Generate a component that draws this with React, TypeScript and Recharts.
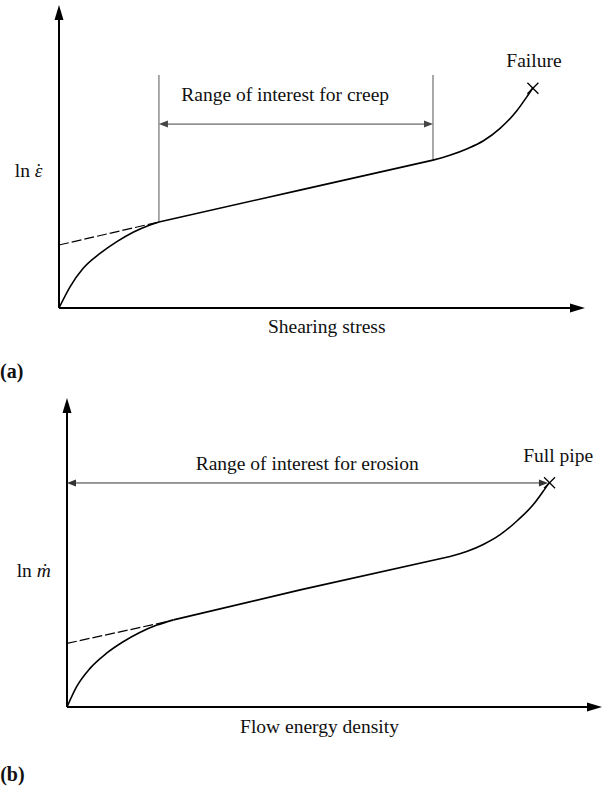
import React from 'react';
import { LineChart, Line, XAxis, YAxis, ReferenceLine, ReferenceDot } from 'recharts';

// ---------- data (schematic units, 0..100 on both axes) ----------
const lowA = [
  { x: 0, y: 0 }, { x: 2.1, y: 7.0 }, { x: 4.6, y: 13.1 }, { x: 7.8, y: 18.0 },
  { x: 11.0, y: 21.9 }, { x: 14.1, y: 25.0 }, { x: 17.3, y: 27.4 }, { x: 19.0, y: 28.4 },
];
const midA = [{ x: 19.0, y: 28.4 }, { x: 45.8, y: 38.9 }, { x: 71.1, y: 48.8 }];
const highA = [
  { x: 71.1, y: 48.8 }, { x: 74.3, y: 50.4 }, { x: 77.5, y: 52.5 }, { x: 80.7, y: 55.2 },
  { x: 83.8, y: 59.2 }, { x: 87.0, y: 65.0 }, { x: 88.9, y: 69.6 }, { x: 90.1, y: 72.7 },
];
const dashedA = [{ x: 0, y: 20.8 }, { x: 19.0, y: 28.4 }];
const rangeA = { from: 19.0, to: 71.1, y: 60.7, top: 76.9, lowFrom: 28.4, lowTo: 48.8 };
const failureA = { x: 90.1, y: 72.5 };

const lowB = [
  { x: 0, y: 0 }, { x: 1.8, y: 6.6 }, { x: 4.3, y: 12.5 }, { x: 7.4, y: 17.4 },
  { x: 10.5, y: 21.1 }, { x: 13.6, y: 24.1 }, { x: 16.8, y: 26.5 }, { x: 19.9, y: 28.2 },
];
const midB = [{ x: 19.9, y: 28.2 }, { x: 43.6, y: 37.9 }, { x: 71.6, y: 48.7 }];
const highB = [
  { x: 71.6, y: 48.7 }, { x: 74.7, y: 50.3 }, { x: 77.8, y: 52.6 }, { x: 80.9, y: 55.7 },
  { x: 84.1, y: 60.2 }, { x: 87.2, y: 65.6 }, { x: 89.0, y: 69.8 }, { x: 90.1, y: 72.5 },
];
const dashedB = [{ x: 0, y: 20.6 }, { x: 18.6, y: 27.6 }];
const rangeB = { from: 0, to: 89.9, y: 72.5 };
const fullPipeB = { x: 90.2, y: 72.6 };

const textsA = ['Range of interest for creep', 'Failure', 'Shearing stress', '(a)'];
const textsB = ['Range of interest for erosion', 'Full pipe', 'Flow energy density', '(b)'];

// ---------- helpers ----------
const FONT = "'Liberation Serif', 'Times New Roman', 'DejaVu Serif', serif";
const FS = 19.5;

type ArrowOpts = { start?: boolean; end?: boolean; len?: number; half?: number; color: string; width: number; dash?: string };
function arrowLine(o: ArrowOpts) {
  return (p: any) => {
    const { x1, y1, x2, y2 } = p;
    const dx = x2 - x1, dy = y2 - y1;
    const L = Math.hypot(dx, dy) || 1;
    const ux = dx / L, uy = dy / L, nx = -uy, ny = ux;
    const len = o.len ?? 0, half = o.half ?? 0;
    const head = (tx: number, ty: number, dir: number) => {
      const bx = tx - dir * ux * len, by = ty - dir * uy * len;
      return `${tx},${ty} ${bx + nx * half},${by + ny * half} ${bx - nx * half},${by - ny * half}`;
    };
    const sx = o.start ? x1 + ux * len * 0.8 : x1;
    const sy = o.start ? y1 + uy * len * 0.8 : y1;
    const ex = o.end ? x2 - ux * len * 0.8 : x2;
    const ey = o.end ? y2 - uy * len * 0.8 : y2;
    return (
      <g>
        <line x1={sx} y1={sy} x2={ex} y2={ey} stroke={o.color} strokeWidth={o.width} strokeDasharray={o.dash} />
        {o.start && <polygon points={head(x1, y1, -1)} fill={o.color} />}
        {o.end && <polygon points={head(x2, y2, 1)} fill={o.color} />}
      </g>
    );
  };
}

function textShape(content: React.ReactNode, anchor: 'start' | 'middle' | 'end', size = FS, weight: any = 'normal') {
  return (p: any) => (
    <text x={p.cx} y={p.cy} textAnchor={anchor} fill="#111"
      style={{ fontFamily: FONT, fontSize: size, fontWeight: weight }}>
      {content}
    </text>
  );
}

const crossShape = (p: any) => {
  const s = 5.5;
  return (
    <g stroke="#000" strokeWidth={1.3}>
      <line x1={p.cx - s} y1={p.cy - s} x2={p.cx + s} y2={p.cy + s} />
      <line x1={p.cx - s} y1={p.cy + s} x2={p.cx + s} y2={p.cy - s} />
    </g>
  );
};

const axisArrow = arrowLine({ end: true, len: 15, half: 4.5, color: '#000', width: 2 });
const rangeArrow = arrowLine({ start: true, end: true, len: 9, half: 3.5, color: '#444', width: 1 });
const rangeArrowEnd = arrowLine({ start: true, end: true, len: 9, half: 3.5, color: '#333', width: 1 });
const thinLine = arrowLine({ color: '#555', width: 1 });
const dashLine = arrowLine({ color: '#000', width: 1.2, dash: '10 3' });

const epsDot = (
  <>
    <tspan>ln </tspan>
    <tspan fontStyle="italic">{'\u03B5'}</tspan>
    <tspan dx={-7}>{'\u02D9'}</tspan>
  </>
);
const mDot = (
  <>
    <tspan>ln </tspan>
    <tspan fontStyle="italic">{'\u1E41'}</tspan>
  </>
);

const curveLine = (data: any[], type: any, key: string) => (
  <Line key={key} data={data} type={type} dataKey="y" stroke="#000" strokeWidth={1.6} dot={false} isAnimationActive={false} />
);

export default function App() {
  return (
    <div style={{ position: 'absolute', left: 0, top: 0, width: 612, height: 789, background: '#fff' }}>
      {/* Panel (a) */}
      <div style={{ position: 'absolute', left: 0, top: 0 }}>
        <LineChart width={612} height={390} margin={{ top: 5, right: 27, bottom: 82, left: 59 }}>
          <XAxis type="number" dataKey="x" domain={[0, 100]} hide />
          <YAxis type="number" dataKey="y" domain={[0, 100]} hide />
          <ReferenceLine segment={[{ x: 0, y: 0 }, { x: 0, y: 100 }]} ifOverflow="visible" shape={axisArrow} />
          <ReferenceLine segment={[{ x: 0, y: 0 }, { x: 100, y: 0 }]} ifOverflow="visible" shape={axisArrow} />
          <ReferenceLine segment={[dashedA[0], dashedA[1]]} ifOverflow="visible" shape={dashLine} />
          <ReferenceLine segment={[{ x: rangeA.from, y: rangeA.lowFrom }, { x: rangeA.from, y: rangeA.top }]} ifOverflow="visible" shape={thinLine} />
          <ReferenceLine segment={[{ x: rangeA.to, y: rangeA.lowTo }, { x: rangeA.to, y: rangeA.top }]} ifOverflow="visible" shape={thinLine} />
          <ReferenceLine segment={[{ x: rangeA.from, y: rangeA.y }, { x: rangeA.to, y: rangeA.y }]} ifOverflow="visible" shape={rangeArrow} />
          {curveLine(lowA, 'monotone', 'la')}
          {curveLine(midA, 'linear', 'ma')}
          {curveLine(highA, 'monotone', 'ha')}
          <ReferenceDot x={failureA.x} y={failureA.y} ifOverflow="visible" shape={crossShape} />
          <ReferenceDot x={43} y={68.3} ifOverflow="visible" shape={textShape(textsA[0], 'middle')} />
          <ReferenceDot x={90.3} y={79.6} ifOverflow="visible" shape={textShape(textsA[1], 'middle')} />
          <ReferenceDot x={50.9} y={-8.3} ifOverflow="visible" shape={textShape(textsA[2], 'middle')} />
          <ReferenceDot x={-11.2} y={-23.1} ifOverflow="visible" shape={textShape(textsA[3], 'start', 20, 'bold')} />
          <ReferenceDot x={-8.4} y={43.2} ifOverflow="visible" shape={textShape(epsDot, 'start')} />
        </LineChart>
      </div>
      {/* Panel (b) */}
      <div style={{ position: 'absolute', left: 0, top: 390 }}>
        <LineChart width={612} height={399} margin={{ top: 8, right: 10, bottom: 82, left: 67 }}>
          <XAxis type="number" dataKey="x" domain={[0, 100]} hide />
          <YAxis type="number" dataKey="y" domain={[0, 100]} hide />
          <ReferenceLine segment={[{ x: 0, y: 0 }, { x: 0, y: 100 }]} ifOverflow="visible" shape={axisArrow} />
          <ReferenceLine segment={[{ x: 0, y: 0 }, { x: 100, y: 0 }]} ifOverflow="visible" shape={axisArrow} />
          <ReferenceLine segment={[dashedB[0], dashedB[1]]} ifOverflow="visible" shape={dashLine} />
          <ReferenceLine segment={[{ x: rangeB.from, y: rangeB.y }, { x: rangeB.to, y: rangeB.y }]} ifOverflow="visible" shape={rangeArrowEnd} />
          {curveLine(lowB, 'monotone', 'lb')}
          {curveLine(midB, 'linear', 'mb')}
          {curveLine(highB, 'monotone', 'hb')}
          <ReferenceDot x={fullPipeB.x} y={fullPipeB.y} ifOverflow="visible" shape={crossShape} />
          <ReferenceDot x={44.9} y={76.7} ifOverflow="visible" shape={textShape(textsB[0], 'middle')} />
          <ReferenceDot x={91.8} y={79.4} ifOverflow="visible" shape={textShape(textsB[1], 'middle')} />
          <ReferenceDot x={47.2} y={-8.4} ifOverflow="visible" shape={textShape(textsB[2], 'middle')} />
          <ReferenceDot x={-12.5} y={-23.9} ifOverflow="visible" shape={textShape(textsB[3], 'start', 20, 'bold')} />
          <ReferenceDot x={-9.4} y={42.2} ifOverflow="visible" shape={textShape(mDot, 'start')} />
        </LineChart>
      </div>
    </div>
  );
}
